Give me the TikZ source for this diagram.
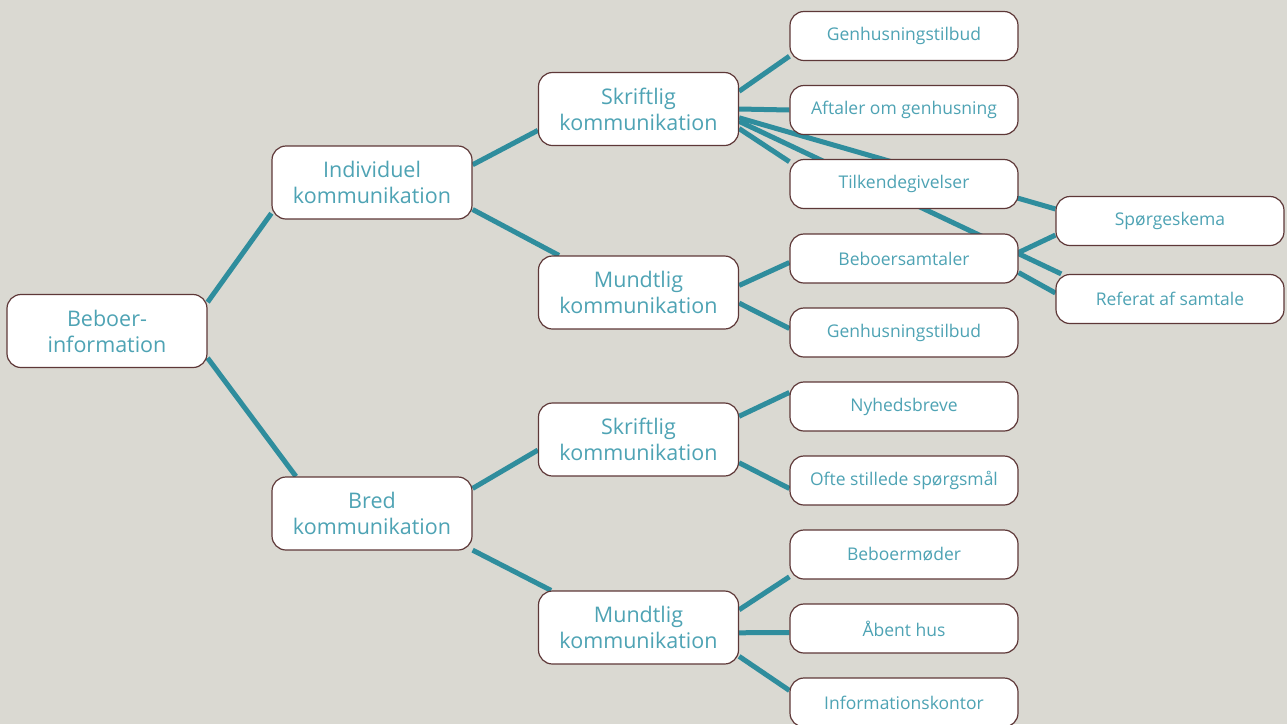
\documentclass[tikz,border=0pt]{standalone}
\usepackage{fontspec}
\setmainfont{Open Sans}
\usetikzlibrary{positioning}
\definecolor{paper}{HTML}{DAD9D2}
\definecolor{teal}{HTML}{2F8D9D}
\definecolor{tealtext}{HTML}{4EA3B4}
\definecolor{rim}{HTML}{5E3838}
\pgfdeclarelayer{background}
\pgfsetlayers{background,main}

\begin{document}
\begin{tikzpicture}[x=1pt, y=-1pt,
    box/.style={draw=rim, line width=1.2pt, fill=white, rounded corners=14pt,
      minimum width=200pt, minimum height=73pt, align=center, text=tealtext,
      font=\fontsize{21.5}{26}\selectfont, inner sep=0pt},
    leaf/.style={box, minimum width=228pt, minimum height=49pt,
      font=\fontsize{17.5}{20}\selectfont},
    link/.style={draw=teal, line width=5pt}]
  \useasboundingbox (0,0) rectangle (1287,724);

  % --- root and first level ---
  \node[box] (beboer) at (107,331) {Beboer-\\information};
  \node[box] (indiv) at (372,182.5) {Individuel\\kommunikation};
  \node[box] (bred) at (372,513.5) {Bred\\kommunikation};

  % --- second level ---
  \node[box] (skrift1) at (638.5,109) {Skriftlig\\kommunikation};
  \node[box] (mundt1) at (638.5,292.5) {Mundtlig\\kommunikation};
  \node[box] (skrift2) at (638.5,439.5) {Skriftlig\\kommunikation};
  \node[box] (mundt2) at (638.5,627.5) {Mundtlig\\kommunikation};

  % --- leaves ---
  \node[leaf] (genhus1) at (904,36) {Genhusningstilbud};
  \node[leaf] (aftaler) at (904,110) {Aftaler om genhusning};
  \node[leaf] (tilkend) at (904,184) {Tilkendegivelser};
  \node[leaf] (samtale) at (904,258.5) {Beboersamtaler};
  \node[leaf] (genhus2) at (904,332.5) {Genhusningstilbud};
  \node[leaf] (nyhed) at (904,406.5) {Nyhedsbreve};
  \node[leaf] (ofte) at (904,480.5) {Ofte stillede spørgsmål};
  \node[leaf] (moeder) at (904,554.5) {Beboermøder};
  \node[leaf] (aabent) at (904,628.5) {Åbent hus};
  \node[leaf] (kontor) at (904,702.5) {Informationskontor};
  \node[leaf] (skema) at (1170,221) {Spørgeskema};
  \node[leaf] (referat) at (1170,299) {Referat af samtale};

  % paper and connectors behind the boxes
  \begin{pgfonlayer}{background}
    \fill[paper] (0,0) rectangle (1287,724);

    \draw[link] (beboer.16) -- (indiv.197);
    \draw[link] (beboer.345) -- (bred.154);
    \draw[link] (indiv.10) -- (skrift1.192);
    \draw[link] (indiv.345) -- (mundt1.155);
    \draw[link] (bred.14) -- (skrift2.186);
    \draw[link] (bred.340) -- (mundt2.157);

    \draw[link] (skrift1.10) -- (genhus1.190);
    \draw[link] (skrift1.0) -- (aftaler.180);
    \draw[link] (skrift1.349) -- (tilkend.169);
    \draw[link] (skrift1.355) -- (skema.174);
    \draw[link] (skrift1.353) -- (referat.167);

    \draw[link] (mundt1.4) -- (samtale.182);
    \draw[link] (mundt1.354) -- (genhus2.178);
    \draw[link] (samtale.3) -- (skema.187);
    \draw[link] (samtale.353) -- (referat.177);

    \draw[link] (skrift2.13) -- (nyhed.173);
    \draw[link] (skrift2.347) -- (ofte.184);
    \draw[link] (mundt2.10) -- (moeder.191);
    \draw[link] (mundt2.357) -- (aabent.182);
    \draw[link] (mundt2.344) -- (kontor.174);
  \end{pgfonlayer}
\end{tikzpicture}
\end{document}
